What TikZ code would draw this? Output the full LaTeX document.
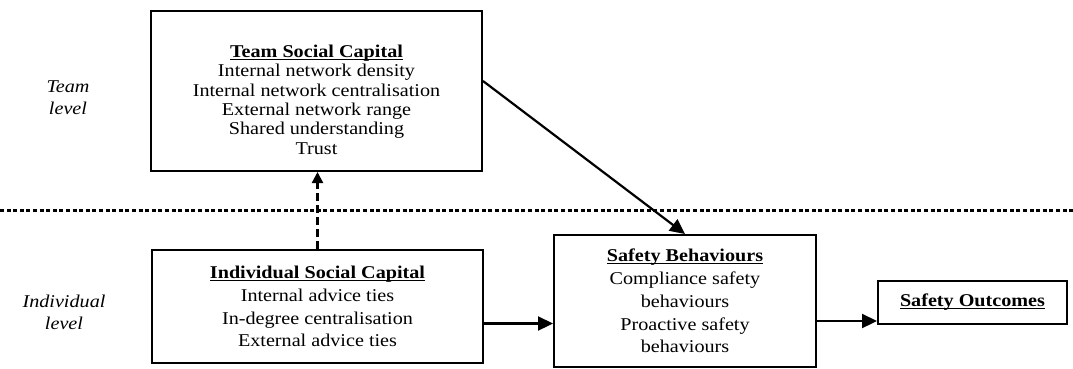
\documentclass[tikz,border=0pt]{standalone}
\usepackage{fontspec}
\setmainfont[FakeStretch=1.12]{Liberation Serif}
\usetikzlibrary{arrows.meta}
\newcommand{\boxhead}[1]{\underline{\smash{\textbf{#1}}}\vphantom{\textbf{#1}}}

\begin{document}
\begin{tikzpicture}[x=1pt,y=-1pt,
	box/.style={draw,line width=2pt,align=center,inner sep=0pt},
	lvl/.style={align=center,font=\fontsize{18}{22}\selectfont\itshape},
	arr/.style={line width=2.2pt,-{Triangle[length=15pt,width=14pt]}}]
	\useasboundingbox (0,0) rectangle (1073,368);
	% level separator
	\draw[line width=3pt,dash pattern=on 4pt off 2.6pt] (0,210) -- (1073,210);
	\node[lvl] (tl) at (68,98) {Team\\level};
	\node[lvl] (il) at (64,312) {Individual\\level};
	% boxes
	\node[box,minimum width=331,minimum height=160,font=\fontsize{18}{19.3}\selectfont] (team) at (316.5,91)
		{\rule{0pt}{30pt}\boxhead{Team Social Capital}\\Internal network density\\Internal network centralisation\\External network range\\Shared understanding\\Trust};
	\node[box,minimum width=331,minimum height=113,font=\fontsize{18}{22.8}\selectfont] (isc) at (317.5,306.5)
		{\boxhead{Individual Social Capital}\\Internal advice ties\\In-degree centralisation\\External advice ties};
	\node[box,minimum width=262,minimum height=132,font=\fontsize{18}{22.8}\selectfont] (sb) at (685,301)
		{\boxhead{Safety Behaviours}\\Compliance safety\\behaviours\\Proactive safety\\behaviours};
	\node[box,minimum width=189,minimum height=43,font=\fontsize{18}{22.8}\selectfont] (outc) at (972.5,302.5)
		{\boxhead{Safety Outcomes}};
	% paths
	\coordinate (a) at ([yshift=-17pt]isc.east);
	\coordinate (b) at ([yshift=4pt]outc.south west);
	\draw[arr] ([yshift=10pt]team.east) -- (sb.north);
	\draw[arr,dash pattern=on 8pt off 4pt,-{Triangle[length=11pt,width=11pt]}] (isc.north) -- (isc.north |- team.south);
	\draw[arr] (a) -- (a -| sb.west);
	\draw[arr] (b -| sb.east) -- (b);
\end{tikzpicture}
\end{document}
